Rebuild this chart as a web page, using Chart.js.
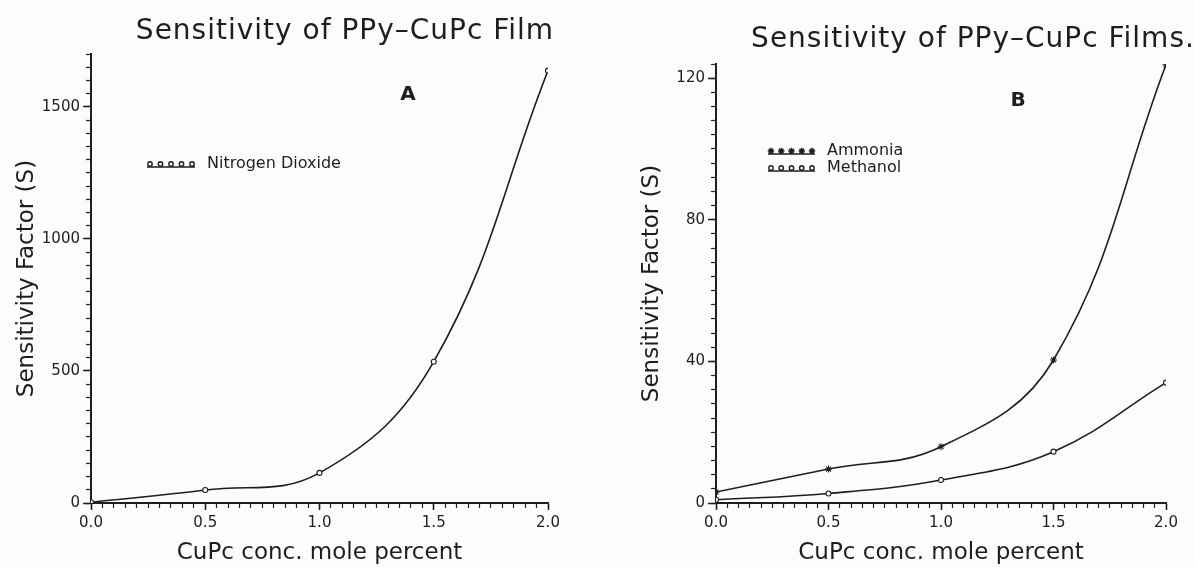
<!DOCTYPE html>
<html>
<head>
<meta charset="utf-8">
<script src="https://cdn.jsdelivr.net/npm/chart.js@4.4.1/dist/chart.umd.min.js"></script>
<style>
  html, body { margin: 0; padding: 0; background: #fcfcfb; }
  #wrap { position: relative; width: 1195px; height: 567px; overflow: hidden; }
  canvas { position: absolute; top: 0; }
  #chartA { left: 0; }
  #chartB { left: 600px; }
</style>
</head>
<body>
<div id="wrap">
  <canvas id="chartA" width="600" height="567"></canvas>
  <canvas id="chartB" width="595" height="567"></canvas>
</div>
<script>
// ── data ────────────────────────────────────────────────────────
var concX        = [0, 0.5, 1.0, 1.5, 2.0];          // CuPc conc. mole percent
var no2Sens      = [3, 49, 114, 535, 1637];          // panel A
var ammoniaSens  = [3.1, 9.6, 15.9, 40.4, 123.8];    // panel B
var methanolSens = [0.9, 2.7, 6.5, 14.5, 34];        // panel B

var xTickValues  = [0, 0.5, 1.0, 1.5, 2.0];
var xTickLabels  = ['0.0', '0.5', '1.0', '1.5', '2.0'];
var yTicksA      = [0, 500, 1000, 1500];
var yTicksB      = [0, 40, 80, 120];

var ink = '#1e1e1e';
var paper = '#fcfcfb';
var family = '"DejaVu Sans", "Liberation Sans", sans-serif';

function pts(ys) {
  return concX.map(function(x, i){ return {x: x, y: ys[i]}; });
}

// Titles, panel letter and in-plot legend (drawn on top of the chart)
var annotPlugin = {
  id: 'annot',
  afterDraw: function(chart, args, o) {
    var ctx = chart.ctx;
    ctx.save();
    ctx.fillStyle = ink;
    ctx.textAlign = 'center';
    ctx.textBaseline = 'middle';
    ctx.font = '28px ' + family;
    if ('letterSpacing' in ctx) ctx.letterSpacing = '1px';
    ctx.fillText(o.title, o.titleX, o.titleY);
    if ('letterSpacing' in ctx) ctx.letterSpacing = '0px';

    ctx.font = 'bold 20px ' + family;
    ctx.fillText(o.letter, o.letterX, o.letterY);

    ctx.font = '16px ' + family;
    ctx.textAlign = 'left';
    chart.data.datasets.forEach(function(ds, i){
      var y = o.legendY + i * o.legendGap;
      ctx.strokeStyle = ink;
      ctx.lineWidth = 1.4;
      ctx.beginPath();
      ctx.moveTo(o.legendX, y + 3);
      ctx.lineTo(o.legendX + o.sampleW, y + 3);
      ctx.stroke();
      ctx.fillStyle = paper;
      var r = ds.pointStyle === 'star' ? 3.2 : 2.2;
      for (var k = 0; k < 5; k++) {
        var px = o.legendX + 3 + k * (o.sampleW - 6) / 4;
        Chart.helpers.drawPoint(ctx, {pointStyle: ds.pointStyle, radius: r, rotation: 0, borderWidth: 1}, px, y);
      }
      ctx.fillStyle = ink;
      ctx.fillText(ds.label, o.legendX + o.sampleW + 12, y);
    });
    ctx.restore();
  }
};

function buildScales(yMax, yMinorStep, yMajorTicks, yWidth, yTitlePad) {
  return {
    x: {
      type: 'linear', position: 'bottom', min: 0, max: 2, weight: 1,
      afterBuildTicks: function(s){ s.ticks = xTickValues.map(function(v){ return {value: v}; }); },
      ticks: {
        color: ink, font: {family: family, size: 15}, padding: 4,
        maxRotation: 0, autoSkip: false,
        callback: function(v){ return xTickLabels[xTickValues.indexOf(v)]; }
      },
      grid: { drawOnChartArea: false, tickLength: 7, tickWidth: 1.5, color: ink },
      border: { color: ink, width: 2 },
      title: { display: true, text: 'CuPc conc. mole percent', color: ink,
               font: {family: family, size: 23}, padding: {top: 0, bottom: 0} },
      afterFit: function(s){ s.height = 64; }
    },
    xMinor: {
      type: 'linear', position: 'bottom', min: 0, max: 2, weight: 0,
      ticks: { stepSize: 0.05, display: false },
      grid: { drawOnChartArea: false, tickLength: 5, tickWidth: 1.2, color: ink },
      border: { display: false },
      afterFit: function(s){ s.height = 0; }
    },
    y: {
      type: 'linear', position: 'left', min: 0, max: yMax, weight: 1,
      afterBuildTicks: function(s){ s.ticks = yMajorTicks.map(function(v){ return {value: v}; }); },
      ticks: { color: ink, font: {family: family, size: 15}, padding: 3,
               callback: function(v){ return String(v); } },
      grid: { drawOnChartArea: false, tickLength: 8, tickWidth: 1.5, color: ink },
      border: { color: ink, width: 2 },
      title: { display: true, text: 'Sensitivity Factor (S)', color: ink,
               font: {family: family, size: 23}, padding: {top: yTitlePad, bottom: 0} },
      afterFit: function(s){ s.width = yWidth; }
    },
    yMinor: {
      type: 'linear', position: 'left', min: 0, max: yMax, weight: 0,
      ticks: { stepSize: yMinorStep, display: false },
      grid: { drawOnChartArea: false, tickLength: 5, tickWidth: 1.2, color: ink },
      border: { display: false },
      afterFit: function(s){ s.width = 0; }
    }
  };
}

function lineSet(label, ys, style, radius) {
  return {
    label: label,
    data: pts(ys),
    borderColor: ink,
    borderWidth: 1.6,
    pointStyle: style,
    pointRadius: radius,
    pointBackgroundColor: paper,
    pointBorderColor: ink,
    pointBorderWidth: 1.1,
    tension: 0.4,
    xAxisID: 'x',
    yAxisID: 'y'
  };
}

new Chart(document.getElementById('chartA'), {
  type: 'line',
  data: { datasets: [ lineSet('Nitrogen Dioxide', no2Sens, 'circle', 2.5) ] },
  options: {
    responsive: false, animation: false,
    layout: { padding: {left: 0, top: 54, right: 52, bottom: 0} },
    plugins: {
      legend: { display: false }, tooltip: { enabled: false },
      annot: {
        title: 'Sensitivity of PPy\u2013CuPc Film', titleX: 345, titleY: 32,
        letter: 'A', letterX: 408, letterY: 95,
        legendX: 147, legendY: 164, legendGap: 16, sampleW: 48
      }
    },
    scales: buildScales(1700, 50, yTicksA, 91, 13)
  },
  plugins: [annotPlugin]
});

new Chart(document.getElementById('chartB'), {
  type: 'line',
  data: { datasets: [
    lineSet('Ammonia', ammoniaSens, 'star', 3.5),
    lineSet('Methanol', methanolSens, 'circle', 2.5)
  ] },
  options: {
    responsive: false, animation: false,
    layout: { padding: {left: 0, top: 64, right: 29, bottom: 0} },
    plugins: {
      legend: { display: false }, tooltip: { enabled: false },
      annot: {
        title: 'Sensitivity of PPy\u2013CuPc Films.', titleX: 373, titleY: 40,
        letter: 'B', letterX: 418, letterY: 101,
        legendX: 168, legendY: 151, legendGap: 17, sampleW: 47
      }
    },
    scales: buildScales(124, 4, yTicksB, 116, 38)
  },
  plugins: [annotPlugin]
});
</script>
</body>
</html>
